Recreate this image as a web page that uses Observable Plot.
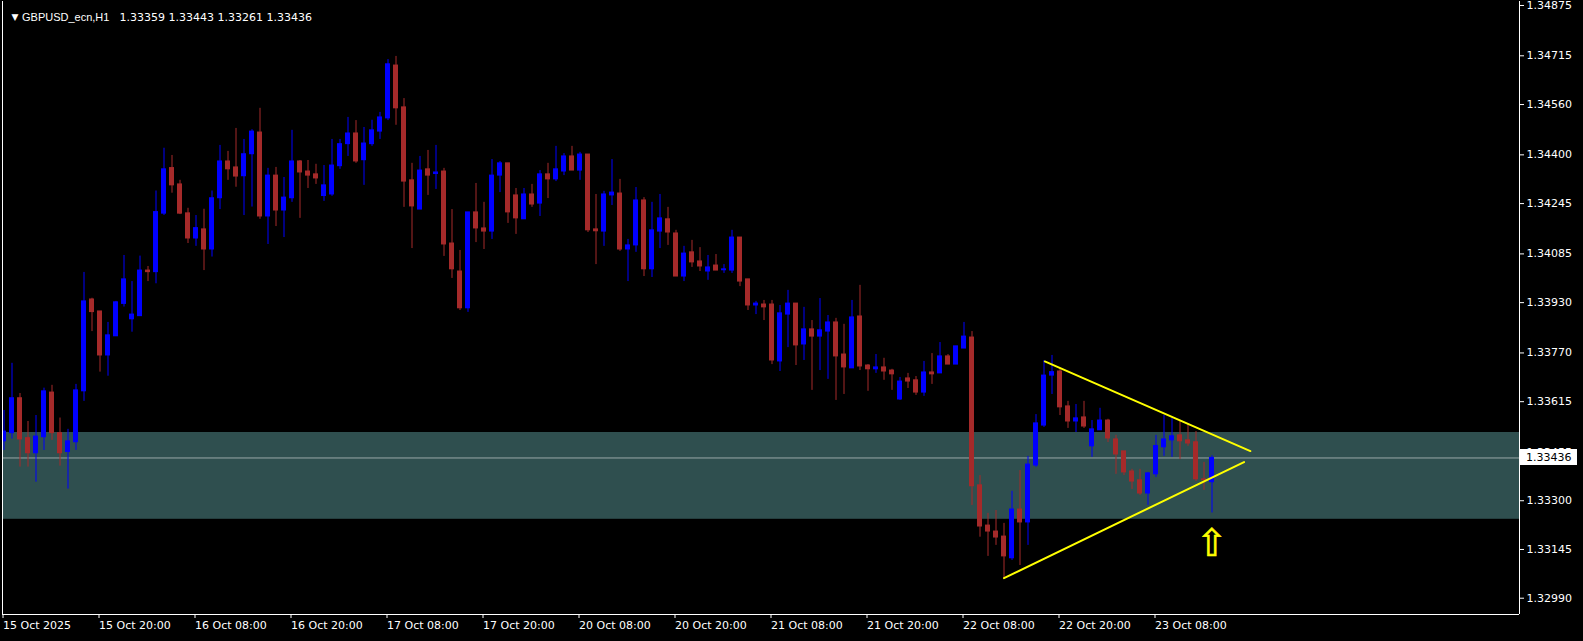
<!DOCTYPE html>
<html><head><meta charset="utf-8">
<script src="https://cdn.jsdelivr.net/npm/d3@7"></script>
<script src="https://cdn.jsdelivr.net/npm/@observablehq/plot@0.6"></script>
<style>html,body{margin:0;padding:0;background:#000;overflow:hidden}</style>
</head><body><div id="chart"></div>
<script>
const symbol = "GBPUSD_ecn,H1";
const opens = [1.33489,1.33515,1.33626,1.33499,1.33451,1.33502,1.33644,1.33515,1.33455,1.33486,
1.33648,1.33940,1.33902,1.33762,1.33823,1.33926,1.33877,1.33887,1.34032,1.34027,
1.34213,1.34358,1.34306,1.34214,1.34134,1.34163,1.34099,1.34262,1.34379,1.34360,
1.34332,1.34402,1.34471,1.34204,1.34334,1.34223,1.34262,1.34379,1.34347,1.34338,
1.34269,1.34274,1.34364,1.34434,1.34468,1.34383,1.34434,1.34474,1.34516,1.34684,
1.34551,1.34319,1.34226,1.34354,1.34339,1.34347,1.34118,1.34029,1.33912,1.34217,
1.34166,1.34156,1.34334,1.34373,1.34271,1.34195,1.34274,1.34245,1.34338,1.34322,
1.34347,1.34395,1.34350,1.34401,1.34163,1.34156,1.34271,1.34277,1.34099,1.34112,
1.34255,1.34036,1.34156,1.34195,1.34150,1.34013,1.34090,1.34061,1.34029,1.34048,
1.34033,1.34032,1.34137,1.34004,1.33921,1.33924,1.33924,1.33743,1.33892,1.33927,
1.33797,1.33845,1.33822,1.33838,1.33867,1.33765,1.33721,1.33886,1.33730,1.33718,
1.33724,1.33714,1.33622,1.33689,1.33683,1.33644,1.33708,1.33705,1.33759,1.33733,
1.33784,1.33819,1.33349,1.33221,1.33202,1.33186,1.33117,1.33272,1.33231,1.33412,
1.33539,1.33698,1.33711,1.33600,1.33552,1.33565,1.33473,1.33524,1.33555,1.33495,
1.33457,1.33393,1.33365,1.33323,1.33384,1.33470,1.33492,1.33508,1.33492,1.33486,
1.33368,1.33359];
const highs = [1.33587,1.33737,1.33641,1.33552,1.33571,1.33658,1.33667,1.33563,1.33527,1.33670,
1.34026,1.33944,1.33902,1.33867,1.33934,1.34080,1.33997,1.34078,1.34045,1.34285,
1.34421,1.34398,1.34319,1.34230,1.34207,1.34227,1.34285,1.34430,1.34411,1.34484,
1.34449,1.34480,1.34548,1.34357,1.34360,1.34328,1.34478,1.34382,1.34382,1.34370,
1.34366,1.34449,1.34449,1.34519,1.34509,1.34487,1.34510,1.34535,1.34703,1.34713,
1.34579,1.34373,1.34395,1.34414,1.34430,1.34357,1.34226,1.34096,1.34217,1.34309,
1.34249,1.34385,1.34379,1.34373,1.34293,1.34293,1.34306,1.34350,1.34373,1.34427,
1.34404,1.34427,1.34408,1.34401,1.34274,1.34284,1.34385,1.34322,1.34131,1.34296,
1.34264,1.34249,1.34274,1.34233,1.34160,1.34109,1.34128,1.34105,1.34080,1.34083,
1.34051,1.34160,1.34137,1.34004,1.33934,1.33937,1.33937,1.33921,1.33969,1.33927,
1.33915,1.33873,1.33943,1.33889,1.33880,1.33861,1.33937,1.33985,1.33733,1.33765,
1.33753,1.33718,1.33692,1.33705,1.33695,1.33743,1.33768,1.33803,1.33765,1.33791,
1.33867,1.33838,1.33380,1.33260,1.33269,1.33228,1.33330,1.33396,1.33441,1.33574,
1.33746,1.33762,1.33721,1.33616,1.33606,1.33616,1.33555,1.33594,1.33559,1.33508,
1.33457,1.33400,1.33400,1.33390,1.33508,1.33571,1.33562,1.33555,1.33543,1.33520,
1.33422,1.33443];
const lows = [1.33460,1.33496,1.33407,1.33407,1.33359,1.33460,1.33492,1.33410,1.33337,1.33460,
1.33616,1.33838,1.33709,1.33696,1.33823,1.33916,1.33836,1.33887,1.33997,1.33990,
1.34207,1.34278,1.34210,1.34118,1.34109,1.34032,1.34075,1.34226,1.34319,1.34297,
1.34207,1.34234,1.34195,1.34115,1.34172,1.34137,1.34249,1.34198,1.34293,1.34306,
1.34252,1.34268,1.34354,1.34395,1.34373,1.34303,1.34427,1.34449,1.34509,1.34494,
1.34233,1.34102,1.34226,1.34271,1.34290,1.34077,1.34007,1.33905,1.33899,1.34121,
1.34099,1.34131,1.34280,1.34182,1.34147,1.34195,1.34233,1.34204,1.34261,1.34315,
1.34334,1.34350,1.34319,1.34153,1.34051,1.34109,1.34239,1.34093,1.33997,1.34090,
1.34013,1.34010,1.34102,1.34112,1.34013,1.33997,1.34042,1.34029,1.34001,1.34032,
1.34023,1.34023,1.33981,1.33905,1.33892,1.33873,1.33733,1.33711,1.33787,1.33730,
1.33746,1.33651,1.33714,1.33686,1.33619,1.33638,1.33721,1.33714,1.33648,1.33705,
1.33683,1.33651,1.33619,1.33657,1.33635,1.33632,1.33670,1.33705,1.33733,1.33733,
1.33784,1.33285,1.33184,1.33123,1.33158,1.33053,1.33110,1.33094,1.33158,1.33406,
1.33533,1.33638,1.33571,1.33530,1.33517,1.33530,1.33438,1.33524,1.33485,1.33384,
1.33380,1.33336,1.33317,1.33285,1.33374,1.33441,1.33438,1.33431,1.33473,1.33361,
1.33333,1.33261];
const closes = [1.33520,1.33626,1.33495,1.33451,1.33504,1.33648,1.33515,1.33451,1.33489,1.33651,
1.33934,1.33900,1.33762,1.33826,1.33931,1.34004,1.33892,1.34032,1.34027,1.34218,
1.34354,1.34303,1.34213,1.34134,1.34167,1.34099,1.34262,1.34379,1.34354,1.34331,
1.34402,1.34474,1.34204,1.34334,1.34223,1.34264,1.34379,1.34344,1.34334,1.34325,
1.34303,1.34366,1.34434,1.34468,1.34379,1.34436,1.34478,1.34519,1.34688,1.34548,
1.34315,1.34236,1.34350,1.34334,1.34344,1.34115,1.34036,1.33912,1.34217,1.34166,
1.34156,1.34334,1.34373,1.34217,1.34198,1.34274,1.34242,1.34338,1.34322,1.34354,
1.34395,1.34350,1.34401,1.34160,1.34157,1.34274,1.34280,1.34099,1.34112,1.34255,
1.34036,1.34160,1.34198,1.34153,1.34013,1.34086,1.34058,1.34045,1.34042,1.34032,
1.34036,1.34137,1.33997,1.33921,1.33927,1.33915,1.33746,1.33896,1.33927,1.33794,
1.33845,1.33822,1.33842,1.33867,1.33759,1.33724,1.33883,1.33727,1.33718,1.33724,
1.33711,1.33702,1.33679,1.33679,1.33644,1.33708,1.33702,1.33759,1.33733,1.33791,
1.33822,1.33346,1.33218,1.33202,1.33183,1.33123,1.33272,1.33231,1.33415,1.33546,
1.33698,1.33709,1.33597,1.33552,1.33562,1.33536,1.33527,1.33555,1.33498,1.33447,
1.33390,1.33361,1.33323,1.33387,1.33474,1.33495,1.33505,1.33489,1.33482,1.33368,
1.33365,1.33436];

const yTicks = [1.34875,1.34715,1.34560,1.34400,1.34245,1.34085,1.33930,1.33770,1.33615,1.33455,1.33300,1.33145,1.32990];
const xTickBars = [0,12,24,36,48,60,72,84,96,108,120,132,144];
const xTickLabels = ["15 Oct 2025","15 Oct 20:00","16 Oct 08:00","16 Oct 20:00","17 Oct 08:00","17 Oct 20:00","20 Oct 08:00","20 Oct 20:00","21 Oct 08:00","21 Oct 20:00","22 Oct 08:00","22 Oct 20:00","23 Oct 08:00"];
const zone = [{low: 1.33241, high: 1.33517}];
const upperLine = [{i: 130.1, p: 1.33743}, {i: 155.8, p: 1.33458}];
const lowerLine = [{i: 125.0, p: 1.33054}, {i: 155.0, p: 1.33423}];
const arrowMark = [{i: 151, p: 1.33163}];

const bars = opens.map((o, i) => ({i, open: o, high: highs[i], low: lows[i], close: closes[i]}));
const last = bars[bars.length - 1];
const BULL = "#0000ff", BEAR = "#a52a2a";
const col = d => d.close >= d.open ? BULL : BEAR;
const xDomain = [-0.1875, 189.4375];
const yDomain = [1.329382, 1.348877];
const fmt = v => v.toFixed(5);

function priceLabel(price) {
  return (index, scales, values, dims) => {
    const y = Math.round(scales.y(price));
    const x0 = dims.width - dims.marginRight + 1;
    const g = d3.create("svg:g");
    g.append("rect").attr("x", x0).attr("y", y - 8).attr("width", 57).attr("height", 16).attr("fill", "#ffffff");
    g.append("text").attr("x", x0 + 6).attr("y", y).attr("dy", "0.35em").attr("text-anchor", "start")
      .attr("font-family", "DejaVu Sans").attr("font-size", 11).attr("fill", "#000").text(fmt(price));
    return g.node();
  };
}

const chart = Plot.plot({
  width: 1583, height: 641,
  marginLeft: 2, marginRight: 64, marginTop: 1, marginBottom: 27,
  style: {background: "#000", color: "#fff", fontFamily: "DejaVu Sans", fontSize: "11px"},
  x: {type: "linear", domain: xDomain, axis: null, label: null},
  y: {type: "linear", domain: yDomain, axis: null, label: null},
  color: {type: "identity"},
  marks: [
    Plot.rect(zone, {x1: () => xDomain[0], x2: () => xDomain[1], y1: "low", y2: "high", fill: "#2f4f4f"}),
    Plot.ruleY([last.close], {stroke: "#9aa8a8", strokeWidth: 1}),
    Plot.ruleX(bars, {x: "i", y1: "low", y2: "high", stroke: col, clip: true}),
    Plot.rect(bars, {x1: d => d.i - 0.3125, x2: d => d.i + 0.3125, y1: "open", y2: "close", fill: col, insetTop: -0.5, insetBottom: -0.5, clip: true}),
    Plot.line(upperLine, {x: "i", y: "p", stroke: "#ffff00", strokeWidth: 2}),
    Plot.line(lowerLine, {x: "i", y: "p", stroke: "#ffff00", strokeWidth: 2}),
    Plot.text(arrowMark, {x: "i", y: "p", text: () => "\u21E7", fill: "#ffff00", stroke: "#ffff00", strokeWidth: 0.6, fontSize: 38, fontFamily: "DejaVu Sans"}),
    Plot.ruleX([xDomain[0]], {stroke: "#fff"}),
    Plot.ruleX([xDomain[1]], {stroke: "#fff"}),
    Plot.ruleY([yDomain[0]], {stroke: "#fff"}),
    Plot.axisY(yTicks, {anchor: "right", label: null, tickSize: 4, tickPadding: 3, tickFormat: fmt, stroke: "#fff", fill: "#fff", fontFamily: "DejaVu Sans", fontSize: 11}),
    Plot.axisX(xTickBars, {anchor: "bottom", label: null, tickSize: 4, tickPadding: 3, tickFormat: d => xTickLabels[xTickBars.indexOf(d)], textAnchor: "start", dx: -1, stroke: "#fff", fill: "#fff", fontFamily: "DejaVu Sans", fontSize: 11}),
    priceLabel(last.close),
    Plot.text(["\u25BC"], {frameAnchor: "top-left", dx: 9, dy: 12, fill: "#fff", fontSize: 9, fontFamily: "DejaVu Sans"}),
    Plot.text([symbol], {frameAnchor: "top-left", dx: 19.5, dy: 12, textAnchor: "start", fill: "#fff", fontSize: 11, fontFamily: "Liberation Sans"}),
    Plot.text([[last.open, last.high, last.low, last.close].map(fmt).join(" ")], {frameAnchor: "top-left", dx: 117, dy: 12, textAnchor: "start", fill: "#fff", fontSize: 11, fontFamily: "DejaVu Sans"})
  ]
});
document.getElementById("chart").appendChild(chart);
</script>
</body></html>
